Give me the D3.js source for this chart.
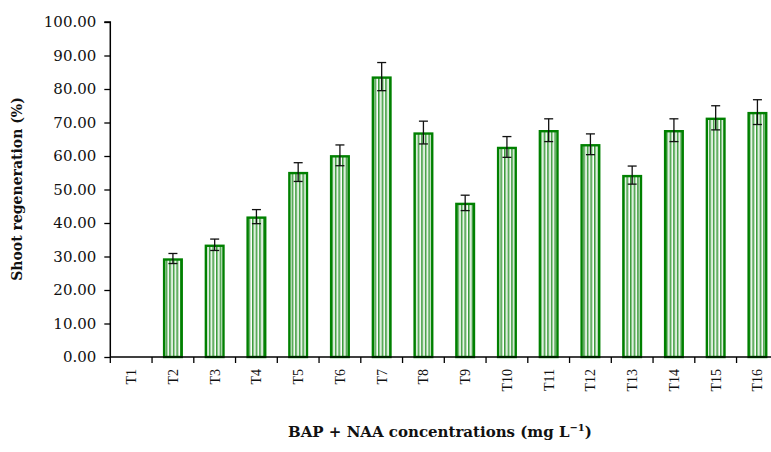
<!DOCTYPE html>
<html>
<head>
<meta charset="utf-8">
<script src="https://cdn.jsdelivr.net/npm/d3@7/dist/d3.min.js"></script>
<style>
  html, body { margin: 0; padding: 0; background: #fff; }
  svg { display: block; }
</style>
</head>
<body>
<script>
const categories = ["T1","T2","T3","T4","T5","T6","T7","T8","T9","T10","T11","T12","T13","T14","T15","T16"];
const values = [0, 29.4, 33.5, 41.9, 55.2, 60.2, 83.7, 67.0, 46.0, 62.7, 67.7, 63.5, 54.3, 67.7, 71.4, 73.1];
const errors = [0, 1.5, 1.7, 2.1, 2.8, 3.1, 4.2, 3.4, 2.3, 3.1, 3.4, 3.1, 2.7, 3.4, 3.6, 3.7];
const yTicks = [0, 10, 20, 30, 40, 50, 60, 70, 80, 90, 100];
const yTitle = "Shoot regeneration (%)";

const W = 771, H = 452;
const mLeft = 110.3, mRight = 110.3 + 16 * 41.75, mTop = 22, mBottom = 357;

const svg = d3.select("body").append("svg").attr("width", W).attr("height", H);

const defs = svg.append("defs");
const pat = defs.append("pattern").attr("id", "stripes").attr("patternUnits", "userSpaceOnUse")
  .attr("width", 3.6).attr("height", 10);
pat.append("rect").attr("width", 3.6).attr("height", 10).attr("fill", "#ffffff");
pat.append("rect").attr("x", 0).attr("width", 1.6).attr("height", 10).attr("fill", "#3a9a3a");
pat.append("rect").attr("x", 1.6).attr("width", 0.8).attr("height", 10).attr("fill", "#b8dcb8");

const x = d3.scaleBand().domain(categories).range([mLeft, mRight]).padding(0);
const y = d3.scaleLinear().domain([0, 100]).range([mBottom, mTop]);

const serif = "'DejaVu Serif', 'Liberation Serif', serif";

// Bars
const bw = x.bandwidth() * 0.47;
const g = svg.append("g");
categories.forEach((c, i) => {
  const v = values[i];
  if (v <= 0) return;
  const cx = x(c) + x.bandwidth() / 2;
  g.append("rect")
    .attr("x", cx - bw / 2 + 1).attr("y", y(v) + 1)
    .attr("width", bw - 2).attr("height", y(0) - y(v) - 1)
    .attr("fill", "url(#stripes)")
    .attr("stroke", "#008000").attr("stroke-width", 2.4);
  const e = errors[i];
  const eg = g.append("g").attr("stroke", "#111").attr("stroke-width", 1.3);
  eg.append("line").attr("x1", cx).attr("x2", cx).attr("y1", y(v + e)).attr("y2", y(v - e));
  eg.append("line").attr("x1", cx - 4.5).attr("x2", cx + 4.5).attr("y1", y(v + e)).attr("y2", y(v + e));
  eg.append("line").attr("x1", cx - 4.5).attr("x2", cx + 4.5).attr("y1", y(v - e)).attr("y2", y(v - e));
});

// Y axis
const yAxis = d3.axisLeft(y).tickValues(yTicks).tickFormat(d3.format(".2f")).tickSize(6).tickPadding(8);
const ya = svg.append("g").attr("transform", `translate(${mLeft},0)`).call(yAxis);
ya.select(".domain").attr("stroke", "#000").attr("stroke-width", 1.5).attr("d", `M-6,${mTop}H0V${mBottom}`);
ya.selectAll(".tick line").attr("stroke", "#000").attr("stroke-width", 1.3);
ya.selectAll(".tick text").attr("font-family", serif).attr("font-size", 15).attr("fill", "#111");

// X axis
const xa = svg.append("g");
xa.append("line").attr("x1", mLeft).attr("x2", mRight).attr("y1", mBottom).attr("y2", mBottom)
  .attr("stroke", "#000").attr("stroke-width", 1.5);
const bounds = categories.map(c => x(c)).concat([x(categories[categories.length - 1]) + x.bandwidth()]);
xa.selectAll("line.tk").data(bounds).enter().append("line").attr("class", "tk")
  .attr("x1", d => d).attr("x2", d => d).attr("y1", mBottom).attr("y2", mBottom + 6)
  .attr("stroke", "#000").attr("stroke-width", 1.3);
xa.selectAll("text").data(categories).enter().append("text")
  .attr("transform", d => `translate(${x(d) + x.bandwidth() / 2},369) rotate(-90)`)
  .attr("dy", "0.35em")
  .attr("text-anchor", "end")
  .attr("font-family", "'Liberation Serif', serif").attr("font-size", 14).attr("fill", "#111")
  .text(d => d);

// Titles
svg.append("text")
  .attr("transform", "translate(22,189) rotate(-90)")
  .attr("text-anchor", "middle")
  .attr("font-family", serif).attr("font-weight", "bold").attr("font-size", 14).attr("fill", "#111")
  .text(yTitle);

const xt = svg.append("text")
  .attr("x", 440).attr("y", 437)
  .attr("text-anchor", "middle")
  .attr("font-family", serif).attr("font-weight", "bold").attr("font-size", 15).attr("fill", "#111");
xt.append("tspan").text("BAP + NAA concentrations (mg L");
xt.append("tspan").attr("dy", -6).attr("font-size", 10).text("\u22121");
xt.append("tspan").attr("dy", 6).text(")");
</script>
</body>
</html>
